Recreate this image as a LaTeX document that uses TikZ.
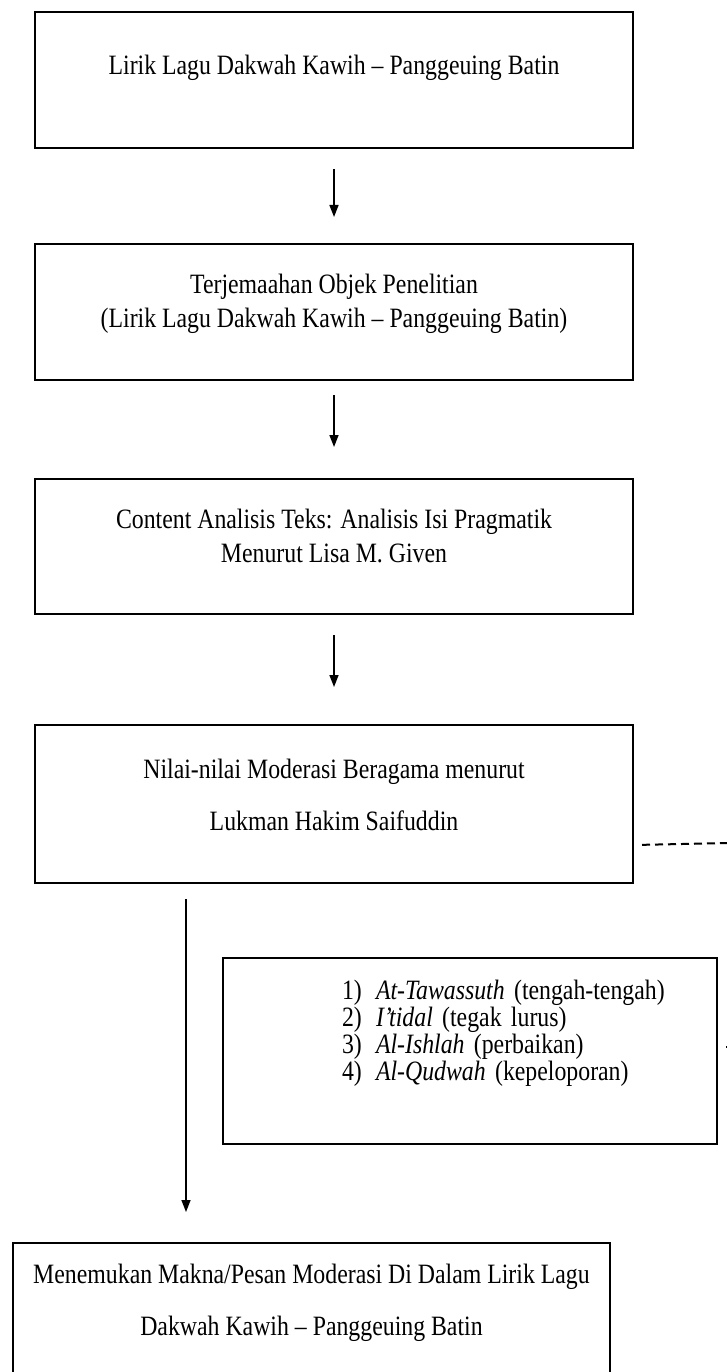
\documentclass[tikz,border=0pt]{standalone}
\usepackage{fontspec}
\setmainfont{Liberation Serif}[FakeStretch=0.85]
\usetikzlibrary{arrows.meta}

\begin{document}
\begin{tikzpicture}[x=1pt,y=1pt,
    stage/.style={draw,line width=2pt,minimum width=598pt,inner ysep=0pt,align=center,font=\fontsize{28}{34}\selectfont},
    arc/.style={draw,line width=1.6pt,-{Triangle[length=12pt,width=9pt]}},
    dashline/.style={draw,line width=2pt,dash pattern=on 8pt off 5pt}]
        \useasboundingbox (0,0) rectangle (727,-1372);
        \clip (0,0) rectangle (727,-1372);

        \node[stage,anchor=north,text height=63pt,text depth=73pt] (lirik) at (334,-11) {Lirik Lagu Dakwah Kawih – Panggeuing Batin};
        \node[stage,anchor=north,text height=83pt,text depth=53pt] (terjemah) at (334,-243) {Terjemaahan Objek Penelitian\\(Lirik Lagu Dakwah Kawih – Panggeuing Batin)};
        \node[stage,anchor=north,text height=83pt,text depth=52pt] (content) at (334,-478) {Content Analisis Teks: Analisis Isi Pragmatik\\Menurut Lisa M. Given};
        \node[stage,anchor=north,text height=105pt,text depth=53pt] (nilai) at (334,-724) {Nilai-nilai Moderasi Beragama menurut\\[18pt]Lukman Hakim Saifuddin};
        \node[stage,anchor=north west,minimum width=0pt,text width=494pt,inner xsep=0pt,align=left,font=\fontsize{28}{27}\selectfont,text height=41pt,text depth=145pt] (values) at (222,-957) {%
            \hspace*{119pt}\makebox[34pt][l]{1)}\textit{At-Tawassuth} (tengah-tengah)\\
            \hspace*{119pt}\makebox[34pt][l]{2)}\textit{I’tidal} (tegak lurus)\\
            \hspace*{119pt}\makebox[34pt][l]{3)}\textit{Al-Ishlah} (perbaikan)\\
            \hspace*{119pt}\makebox[34pt][l]{4)}\textit{Al-Qudwah} (kepeloporan)};
        \node[stage,anchor=north,minimum width=597pt,text height=92pt,text depth=66pt] (temuan) at (311.5,-1242) {Menemukan Makna/Pesan Moderasi Di Dalam Lirik Lagu\\[18pt]Dakwah Kawih – Panggeuing Batin};

        \foreach \a/\b/\s/\e in {lirik/terjemah/20/26,terjemah/content/14/31,content/nilai/20/37}{
            \draw[arc,shorten <=\s pt,shorten >=\e pt] (\a) -- (\b);
        }
        \draw[arc,shorten <=15pt,shorten >=30pt] ([xshift=152pt]nilai.south west) -- ([xshift=152pt]nilai.south west |- temuan.north);

        \coordinate (rim) at (730,-843);
        \coordinate (rimlow) at (730,-1047);
        \draw[dashline,shorten <=8pt] ([yshift=39pt]nilai.south east) -- (rim);
        \draw[dashline] (rimlow) -- ([xshift=8pt]values.east |- rimlow);
    \end{tikzpicture}
\end{document}
